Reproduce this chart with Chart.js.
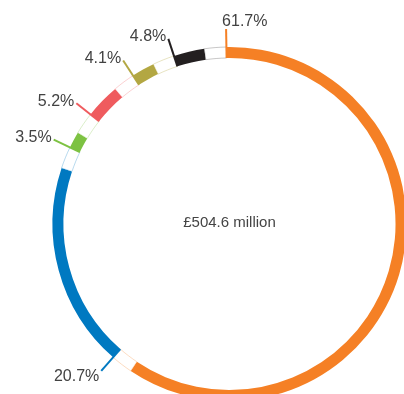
<!DOCTYPE html>
<html>
<head>
<meta charset="utf-8">
<script src="https://cdn.jsdelivr.net/npm/chart.js@4"></script>
<style>
  html, body { margin: 0; padding: 0; background: #fff; overflow: hidden; }
  #ringCanvas { display: block; }
</style>
</head>
<body>
<canvas id="ringCanvas" width="420" height="412"></canvas>
<script>
// share of the total, clockwise from the top
const values = [61.7, 20.7, 3.5, 5.2, 4.1, 4.8];
const colors = ['#f58025', '#0079c1', '#7dc242', '#ef5b5e', '#b3a742', '#231f20'];
const tails = ['rgba(245,128,37,0.28)', 'rgba(0,121,193,0.28)', 'rgba(125,194,66,0.28)',
               'rgba(239,91,94,0.28)', 'rgba(179,167,66,0.32)', 'rgba(35,31,32,0.25)'];
const labels = values.map(v => v.toFixed(1) + '%');
const centreText = '£504.6 million';
const GAP = 2; // white tail at the end of each slice, in the same units

// each slice = solid part + white outlined tail
const ringData = values.flatMap(v => [v - GAP, GAP]);
const ringFill = colors.flatMap(c => [c, '#ffffff']);
const ringBorder = colors.map((c, i) => [c, tails[i]]).flat();
const ringBorderWidth = values.flatMap(() => [0, 1]);

const calloutPlugin = {
    id: 'callouts',
    afterDatasetsDraw(chart) {
        const ctx = chart.ctx;
        const arcs = chart.getDatasetMeta(0).data;
        ctx.save();
        ctx.font = '16px "Liberation Sans", Arial, sans-serif';
        ctx.fillStyle = '#424242';
        values.forEach((v, i) => {
            const arc = arcs[i * 2];
            const { x, y, startAngle, innerRadius } = arc.getProps(['x', 'y', 'startAngle', 'innerRadius'], true);
            const outer = 195;
            const cos = Math.cos(startAngle), sin = Math.sin(startAngle);
            const sx = x + innerRadius * cos, sy = y + innerRadius * sin;
            const ex = x + outer * cos, ey = y + outer * sin;
            ctx.strokeStyle = colors[i];
            ctx.lineWidth = 2;
            ctx.beginPath();
            ctx.moveTo(sx, sy);
            ctx.lineTo(ex, ey);
            ctx.stroke();

            if (Math.abs(ex - x) < 15) {
                ctx.textAlign = 'left';
                ctx.textBaseline = 'alphabetic';
                ctx.fillText(labels[i], ex - 4, ey - 3);
            } else {
                ctx.textAlign = 'right';
                ctx.textBaseline = 'middle';
                ctx.fillText(labels[i], ex - 2, ey < y ? ey - 2 : ey + 6);
            }
        });

        const c = arcs[0];
        ctx.font = '15px "Liberation Sans", Arial, sans-serif';
        ctx.textAlign = 'center';
        ctx.textBaseline = 'middle';
        ctx.fillStyle = '#444444';
        ctx.fillText(centreText, c.x, c.y - 1);
        ctx.restore();
    }
};

document.addEventListener('DOMContentLoaded', function() {
    const ringCanvas = document.getElementById('ringCanvas');
    new Chart(ringCanvas, {
        type: 'doughnut',
        data: {
            labels: values.flatMap(v => [v.toFixed(1) + '%', '']),
            datasets: [{
                data: ringData,
                backgroundColor: ringFill,
                borderColor: ringBorder,
                borderWidth: ringBorderWidth,
                hoverOffset: 0
            }]
        },
        options: {
            responsive: false,
            animation: false,
            rotation: -1,
            cutout: '93.8%',
            layout: {
                padding: { left: 52, top: 46.5, right: 13, bottom: 10.5 }
            },
            plugins: {
                legend: { display: false },
                tooltip: { enabled: false }
            },
            events: []
        },
        plugins: [calloutPlugin]
    });
});
</script>
</body>
</html>
